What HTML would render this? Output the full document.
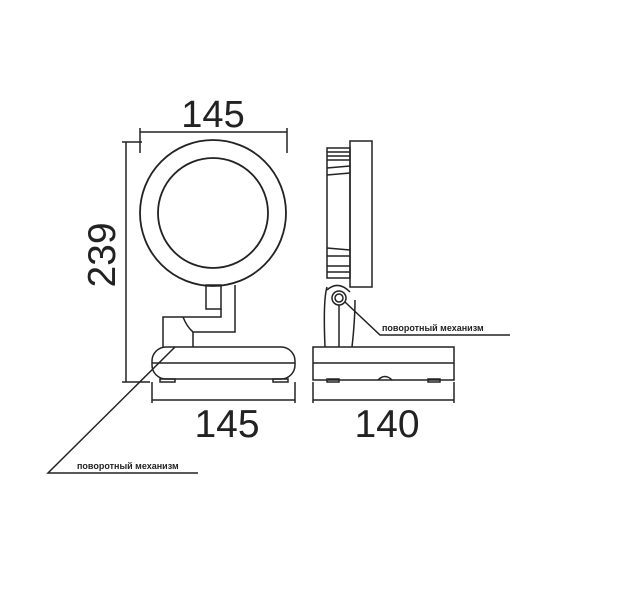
<!DOCTYPE html>
<html><head><meta charset="utf-8"><style>html,body{margin:0;padding:0;background:#fff}svg{display:block}</style></head>
<body>
<svg width="640" height="595" viewBox="0 0 640 595" xmlns="http://www.w3.org/2000/svg" font-family="Liberation Sans, sans-serif">
<g fill="none" stroke="#222" stroke-width="1.5">
<line x1="140" y1="132" x2="287" y2="132"/>
<line x1="140" y1="128" x2="140" y2="153"/>
<line x1="287" y1="128" x2="287" y2="153"/>
<line x1="126" y1="142" x2="126" y2="382"/>
<line x1="122" y1="142" x2="142" y2="142"/>
<line x1="122" y1="382" x2="150" y2="382"/>
<circle cx="213" cy="213" r="73" stroke-width="1.8"/>
<circle cx="213" cy="213" r="55" stroke-width="1.8"/>
<rect x="206" y="285" width="15" height="24"/>
<polyline points="235,285 235,332 193,332 193,347"/>
<polyline points="221,309 221,317 163,317 163,347"/>
<path d="M183 317 Q187 327 193 332"/>
<rect x="152" y="347" width="143" height="32" rx="14"/>
<line x1="152" y1="363" x2="295" y2="363"/>
<rect x="160" y="379" width="15" height="3"/>
<rect x="273" y="379" width="15" height="3"/>
<line x1="152" y1="400" x2="295" y2="400"/>
<line x1="152" y1="382" x2="152" y2="403"/>
<line x1="295" y1="382" x2="295" y2="403"/>
<polyline points="175,347 48,473 198,473"/>
<rect x="350" y="141" width="22" height="146"/>
<rect x="327" y="148" width="23" height="130"/>
<line x1="327" y1="152" x2="350" y2="152"/><line x1="327" y1="156" x2="350" y2="156"/><line x1="327" y1="160" x2="350" y2="160"/>
<line x1="327" y1="168" x2="350" y2="166"/><line x1="327" y1="175" x2="350" y2="173"/>
<line x1="327" y1="248" x2="350" y2="250"/><line x1="327" y1="256" x2="350" y2="256"/>
<line x1="327" y1="266" x2="350" y2="266"/><line x1="327" y1="272" x2="350" y2="272"/>
<path d="M327 287 Q323 300 325 347"/>
<path d="M355 300 Q355 320 352 347"/>
<path d="M327 290 Q338 280 350 292"/>
<circle cx="339" cy="298" r="4"/>
<circle cx="339" cy="298" r="7"/>
<line x1="339" y1="305" x2="339" y2="347"/>
<rect x="313" y="347" width="141" height="33"/>
<line x1="313" y1="363" x2="454" y2="363"/>
<path d="M378 380 Q385 373 392 380"/>
<rect x="327" y="379" width="12" height="3"/>
<rect x="428" y="379" width="12" height="3"/>
<line x1="313" y1="400" x2="454" y2="400"/>
<line x1="313" y1="382" x2="313" y2="403"/>
<line x1="454" y1="382" x2="454" y2="403"/>
<polyline points="345,302 380,335 510,335"/>
</g>
<g fill="#222" stroke="none">
<text x="213" y="127" font-size="38" text-anchor="middle">145</text>
<text x="227" y="437" font-size="39" text-anchor="middle">145</text>
<text x="387" y="437" font-size="39" text-anchor="middle">140</text>
<text transform="translate(115,255) rotate(-90)" font-size="39" text-anchor="middle">239</text>
<text x="77" y="469" font-size="9" font-weight="bold">поворотный механизм</text>
<text x="382" y="331" font-size="9" font-weight="bold">поворотный механизм</text>
</g>
</svg>
</body></html>
